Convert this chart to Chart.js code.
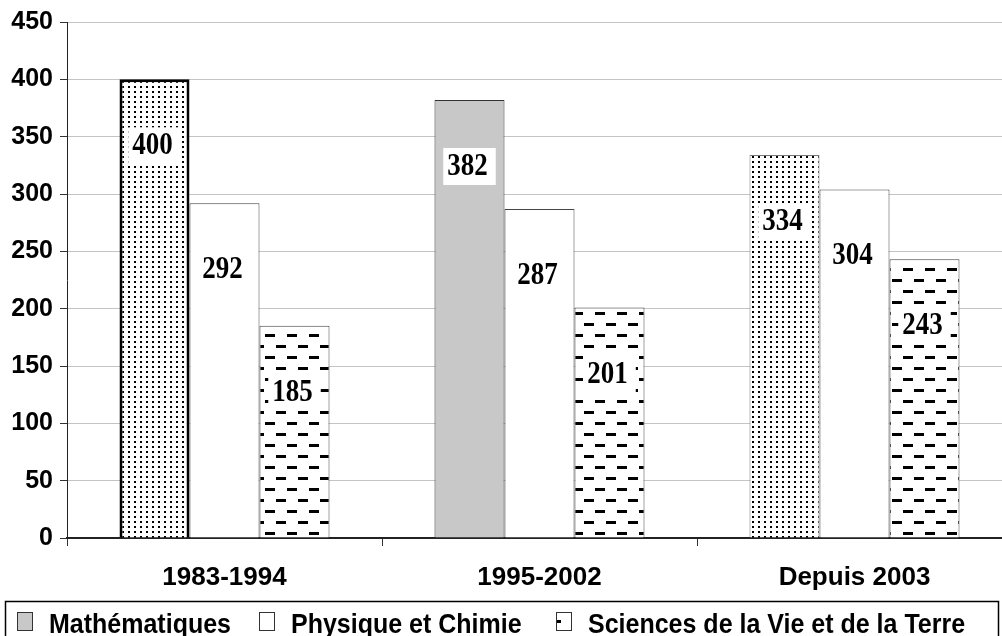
<!DOCTYPE html>
<html><head><meta charset="utf-8">
<script src="https://cdn.jsdelivr.net/npm/chart.js@4.4.0/dist/chart.umd.min.js"></script>
<style>
html,body{margin:0;padding:0;overflow:hidden;background:#fff;width:1002px;height:636px}
#wrap{position:relative;width:1017px;height:636px}
canvas{display:block}
</style></head><body>
<div id="wrap"><canvas id="c" width="1017" height="636"></canvas></div>
<script>
// ---- data ----
const categories = ['1983-1994', '1995-2002', 'Depuis 2003'];
const mathematiques = [400, 382, 334];
const physiqueChimie = [292, 287, 304];
const sciencesVieTerre = [185, 201, 243];
const seriesNames = ['Mathématiques', 'Physique et Chimie', 'Sciences de la Vie et de la Terre'];
const yTickValues = [0, 50, 100, 150, 200, 250, 300, 350, 400, 450];

const canvas = document.getElementById('c');
const mainCtx = canvas.getContext('2d');

function makeDots() {
  const c = document.createElement('canvas'); c.width = 6; c.height = 5;
  const x = c.getContext('2d');
  x.fillStyle = '#fff'; x.fillRect(0, 0, 6, 5);
  x.fillStyle = '#000'; x.fillRect(2, 1, 2, 2);
  return mainCtx.createPattern(c, 'repeat');
}
function makeDashes() {
  const c = document.createElement('canvas'); c.width = 22; c.height = 22;
  const x = c.getContext('2d');
  x.fillStyle = '#fff'; x.fillRect(0, 0, 22, 22);
  x.fillStyle = '#000';
  x.fillRect(1, 4, 10, 3);
  x.fillRect(12, 15, 10, 3);
  return mainCtx.createPattern(c, 'repeat');
}
const dots = makeDots();
const dashes = makeDashes();
const grey = '#c8c8c8';

const FONT = '"Liberation Sans", Arial, sans-serif';

const bgPlugin = {
  id: 'bg',
  beforeDraw(chart) {
    const ctx = chart.ctx; ctx.save();
    ctx.fillStyle = '#fff'; ctx.fillRect(0, 0, chart.width, chart.height);
    ctx.restore();
  }
};

const labelPlugin = {
  id: 'valueLabels',
  afterDatasetsDraw(chart) {
    const ctx = chart.ctx; ctx.save();
    ctx.font = 'bold 27px "Liberation Serif", "Times New Roman", serif';
    ctx.textAlign = 'center'; ctx.textBaseline = 'middle';
    chart.data.datasets.forEach((ds, i) => {
      const meta = chart.getDatasetMeta(i);
      meta.data.forEach((bar, j) => {
        const t = String(ds.data[j]);
        const w = ctx.measureText(t).width;
        const cx = bar.x - 2, cy = bar.y + 66;
        ctx.fillStyle = '#fff';
        ctx.fillRect(cx - w / 2 - 4, cy - 18, w + 12, 37);
        ctx.fillStyle = '#000';
        ctx.save();
        ctx.translate(cx, cy + 1);
        ctx.scale(1, 1.15);
        ctx.fillText(t, 0, 0);
        ctx.restore();
      });
    });
    ctx.restore();
  }
};

const legendPlugin = {
  id: 'boxLegend',
  afterDraw(chart) {
    const ctx = chart.ctx; ctx.save();
    ctx.strokeStyle = '#000'; ctx.lineWidth = 1.5;
    ctx.strokeRect(5.5, 601.5, 993, 40);
    const fills = [grey, '#fff', dashes];
    const boxX = [17, 259, 556];
    ctx.font = 'bold 25px ' + FONT;
    ctx.textBaseline = 'alphabetic'; ctx.textAlign = 'left';
    seriesNames.forEach((name, i) => {
      ctx.fillStyle = fills[i];
      ctx.fillRect(boxX[i], 612, 16, 19);
      ctx.lineWidth = 1; ctx.strokeStyle = '#333';
      ctx.strokeRect(boxX[i] + 0.5, 612.5, 15, 18);
      ctx.fillStyle = '#000';
      ctx.save();
      ctx.translate(boxX[i] + 32, 633);
      ctx.scale(1, 1.12);
      ctx.fillText(name, 0, 0);
      ctx.restore();
    });
    ctx.restore();
  }
};

new Chart(canvas, {
  type: 'bar',
  data: {
    labels: categories,
    datasets: [
      { label: seriesNames[0], data: mathematiques,
        backgroundColor: [dots, grey, dots],
        borderColor: ['#000', '#333', '#777'], borderWidth: [3, 1, 1],
        categoryPercentage: 0.6667, barPercentage: 1 },
      { label: seriesNames[1], data: physiqueChimie,
        backgroundColor: '#fff', borderColor: '#444', borderWidth: 1,
        categoryPercentage: 0.6667, barPercentage: 1 },
      { label: seriesNames[2], data: sciencesVieTerre,
        backgroundColor: dashes, borderColor: '#444', borderWidth: 1,
        categoryPercentage: 0.6667, barPercentage: 1 }
    ]
  },
  options: {
    responsive: false, animation: false, devicePixelRatio: 1,
    layout: { padding: { top: 19, right: 5, bottom: 0, left: 0 } },
    plugins: { legend: { display: false }, tooltip: { enabled: false } },
    scales: {
      x: {
        grid: { display: true, drawOnChartArea: false, offset: true, tickLength: 8, color: '#333', lineWidth: 1 },
        border: { display: true, color: '#222', width: 2 },
        ticks: { color: '#000', font: { family: FONT, size: 26, weight: 'bold' }, padding: 16, maxRotation: 0 },
        afterFit(scale) { scale.height = 98; }
      },
      y: {
        min: 0, max: 450,
        afterBuildTicks(scale) { scale.ticks = yTickValues.map(v => ({ value: v })); },
        grid: { color: '#c4c4c4', lineWidth: 1, tickLength: 7, tickColor: '#333' },
        border: { display: true, color: '#222', width: 1 },
        ticks: { color: '#000', font: { family: FONT, size: 25, weight: 'bold' }, padding: 7 },
        afterFit(scale) { scale.width = 67; }
      }
    }
  },
  plugins: [bgPlugin, labelPlugin, legendPlugin]
});
</script>
</body></html>
